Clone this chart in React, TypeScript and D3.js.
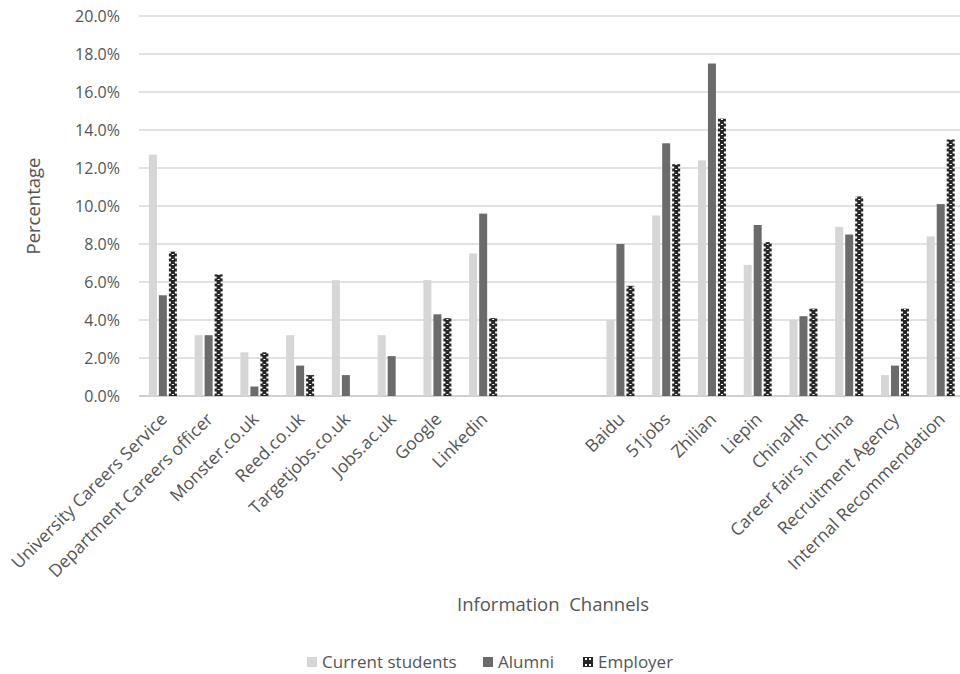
import React from "react";
import * as d3 from "d3";

// Information channels (two blank slots separate UK and China channels)
const categories = [
  "University Careers Service",
  "Department Careers officer",
  "Monster.co.uk",
  "Reed.co.uk",
  "Targetjobs.co.uk",
  "Jobs.ac.uk",
  "Google",
  "Linkedin",
  "",
  " ",
  "Baidu",
  "51jobs",
  "Zhilian",
  "Liepin",
  "ChinaHR",
  "Career fairs in China",
  "Recruitment Agency",
  "Internal Recommendation",
];

const seriesNames = ["Current students", "Alumni", "Employer"];

// Percentages per channel
const currentStudents = [12.7, 3.2, 2.3, 3.2, 6.1, 3.2, 6.1, 7.5, null, null, 4.0, 9.5, 12.4, 6.9, 4.0, 8.9, 1.1, 8.4];
const alumni = [5.3, 3.2, 0.5, 1.6, 1.1, 2.1, 4.3, 9.6, null, null, 8.0, 13.3, 17.5, 9.0, 4.2, 8.5, 1.6, 10.1];
const employer = [7.6, 6.4, 2.3, 1.1, 0, 0, 4.1, 4.1, null, null, 5.8, 12.2, 14.6, 8.1, 4.6, 10.5, 4.6, 13.5];

const yTicks = [0, 2, 4, 6, 8, 10, 12, 14, 16, 18, 20];

const W = 960;
const H = 674;
const FONT = "'Open Sans', 'Liberation Sans', sans-serif";
const TEXT = "#555555";

export default function App() {
  const x0 = d3.scaleBand<string>().domain(categories).range([140, 963.6]).paddingInner(0).paddingOuter(0);
  const groupW = 28;
  const x1 = d3.scaleBand<string>().domain(seriesNames).range([0, groupW]).paddingInner(0.2);
  const y = d3.scaleLinear().domain([0, 20]).range([396, 16]);
  const fmt = d3.format(".1f");

  const seriesData = [currentStudents, alumni, employer];
  const fills = ["#d6d6d6", "#6b6b6b", "url(#chain)"];

  const offset = (x0.bandwidth() - groupW) / 2;

  return (
    <svg width={W} height={H} style={{ position: "absolute", left: 0, top: 0, background: "#fff" }}>
      <defs>
        <pattern id="chain" width={8} height={5} patternUnits="userSpaceOnUse">
          <rect width={8} height={5} fill="#262626" />
          <rect x={2} y={1.5} width={4} height={2} fill="#ffffff" />
          <rect x={0} y={4} width={1} height={1} fill="#ffffff" />
          <rect x={7} y={4} width={1} height={1} fill="#ffffff" />
        </pattern>
        <pattern id="chainLegend" width={10} height={10} patternUnits="userSpaceOnUse">
          <rect width={10} height={10} fill="#262626" />
          <rect x={2} y={2} width={2} height={2} fill="#fff" />
          <rect x={6} y={2} width={2} height={2} fill="#fff" />
          <rect x={2} y={6} width={2} height={2} fill="#fff" />
          <rect x={6} y={6} width={2} height={2} fill="#fff" />
        </pattern>
      </defs>

      {/* gridlines */}
      {yTicks.map((t) => (
        <line key={t} x1={139} x2={W} y1={y(t)} y2={y(t)} stroke={t === 0 ? "#bfbfbf" : "#d9d9d9"} strokeWidth={1.3} />
      ))}

      {/* y tick labels */}
      {yTicks.map((t) => (
        <text key={"l" + t} x={120} y={y(t)} dy="0.36em" textAnchor="end" fontFamily={FONT} fontSize={16} fill={TEXT}>
          {fmt(t)}%
        </text>
      ))}

      {/* bars */}
      {categories.map((c, i) => (
        <g key={c} transform={`translate(${(x0(c) ?? 0) + offset},0)`}>
          {seriesNames.map((s, j) => {
            const v = seriesData[j][i];
            if (v == null || v === 0) return null;
            return (
              <rect key={s} x={x1(s)} y={y(v)} width={x1.bandwidth()} height={y(0) - y(v)} fill={fills[j]} />
            );
          })}
        </g>
      ))}

      {/* category labels */}
      {categories.map((c) =>
        c.trim() === "" ? null : (
          <text
            key={"c" + c}
            transform={`translate(${(x0(c) ?? 0) + x0.bandwidth() / 2 + 1},${416}) rotate(-45)`}
            textAnchor="end"
            dy="0.35em"
            fontFamily={FONT}
            fontSize={17.5}
            fill={TEXT}
          >
            {c}
          </text>
        )
      )}

      {/* axis titles */}
      <text transform={`translate(40,206) rotate(-90)`} textAnchor="middle" fontFamily={FONT} fontSize={18.5} fill={TEXT}>
        Percentage
      </text>
      <text x={553} y={611} textAnchor="middle" fontFamily={FONT} fontSize={18.5} fill={TEXT} style={{ whiteSpace: "pre" }}>
        {"Information  Channels"}
      </text>

      {/* legend */}
      {[
        { name: seriesNames[0], fill: "#d6d6d6", x: 307 },
        { name: seriesNames[1], fill: "#6b6b6b", x: 483 },
        { name: seriesNames[2], fill: "url(#chainLegend)", x: 583 },
      ].map((d) => (
        <g key={d.name} transform={`translate(${d.x},662)`}>
          <rect x={0} y={-5} width={10} height={10} fill={d.fill} />
          <text x={15} dy="0.36em" fontFamily={FONT} fontSize={17} fill={TEXT}>
            {d.name}
          </text>
        </g>
      ))}
    </svg>
  );
}
